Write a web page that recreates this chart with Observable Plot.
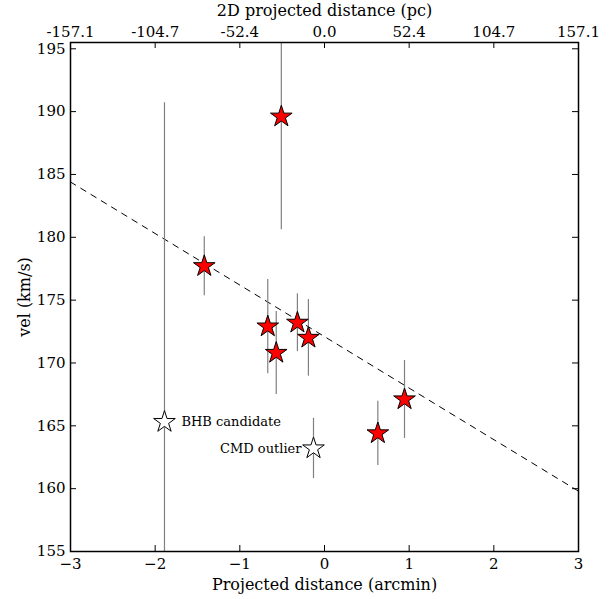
<!DOCTYPE html>
<html>
<head>
<meta charset="utf-8">
<script src="https://cdn.jsdelivr.net/npm/d3@7"></script>
<script src="https://cdn.jsdelivr.net/npm/@observablehq/plot@0.6"></script>
<style>
  body { margin: 0; background: #fff; }
  svg text { font-family: "DejaVu Serif", serif; }
  g[aria-label="x-axis label"], g[aria-label="y-axis label"] { font-size: 16px; }
</style>
</head>
<body>
<div id="chart"></div>
<script>
// Member stars (red filled)
const memberX   = [-0.51, -1.42, -0.67, -0.57, -0.32, -0.19, 0.63, 0.945];
const memberVel = [189.6, 177.7, 172.9, 170.8, 173.2, 172.0, 164.4, 167.1];
const memberErr = [9.0, 2.35, 3.75, 3.3, 2.3, 3.05, 2.55, 3.1];

// Non-member / special stars (open)
const otherX     = [-1.89, -0.13];
const otherVel   = [165.3, 163.2];
const otherErr   = [25.4, 2.4];
const otherLabel = ["BHB candidate", "CMD outlier"];

// Dashed gradient fit (endpoints)
const fitX = [-3, 3];
const fitY = [184.4, 159.8];

// Axis ticks
const xTicks = [-3, -2, -1, 0, 1, 2, 3];
const xLabels = ["−3", "−2", "−1", "0", "1", "2", "3"];
const pcLabels = ["-157.1", "-104.7", "-52.4", "0.0", "52.4", "104.7", "157.1"];
const yTicks = [155, 160, 165, 170, 175, 180, 185, 190, 195];

const members = memberX.map((x, i) => ({x, vel: memberVel[i], err: memberErr[i]}));
const others = otherX.map((x, i) => ({x, vel: otherVel[i], err: otherErr[i], label: otherLabel[i]}));
const fit = fitX.map((x, i) => ({x, y: fitY[i]}));
const all = others.concat(members);

const W = 615, H = 599;
const mL = 70, mR = 37, mT = 42, mB = 48;
const pw = W - mL - mR, ph = H - mT - mB;
const tk = 6;

const chart = Plot.plot({
  width: W,
  height: H,
  marginLeft: mL,
  marginRight: mR,
  marginTop: mT,
  marginBottom: mB,
  style: {fontFamily: "DejaVu Serif", fontSize: "15px", background: "#fff"},
  x: {domain: [-3, 3]},
  y: {domain: [155, 195.5]},
  marks: [
    Plot.line(fit, {x: "x", y: "y", stroke: "black", strokeWidth: 1, strokeDasharray: "6,6", clip: true}),
    Plot.ruleX(all, {x: "x", y1: d => d.vel - d.err, y2: d => d.vel + d.err, stroke: "#808080", strokeWidth: 1.2, clip: true}),
    Plot.dot(members, {x: "x", y: "vel", symbol: "star", r: 6.8, fill: "red", stroke: "black", strokeWidth: 1}),
    Plot.dot(others, {x: "x", y: "vel", symbol: "star", r: 6.8, fill: "white", stroke: "black", strokeWidth: 1}),
    Plot.text(others.slice(0, 1), {x: "x", y: "vel", text: "label", textAnchor: "start", dx: 17, fontSize: 13}),
    Plot.text(others.slice(1), {x: "x", y: "vel", text: "label", textAnchor: "end", dx: -12, fontSize: 13}),
    // inward ticks
    Plot.tickY(yTicks, {y: d => d, insetRight: pw - tk, stroke: "black"}),
    Plot.tickY(yTicks, {y: d => d, insetLeft: pw - tk, stroke: "black"}),
    Plot.tickX(xTicks, {x: d => d, insetTop: ph - tk, stroke: "black"}),
    Plot.tickX(xTicks, {x: d => d, insetBottom: ph - tk, stroke: "black"}),
    Plot.axisX({anchor: "bottom", ticks: xTicks, tickSize: 0, tickPadding: 7, tickFormat: (d, i) => xLabels[i], label: "Projected distance (arcmin)", labelAnchor: "center", labelArrow: false, labelOffset: 38}),
    Plot.axisX({anchor: "top", ticks: xTicks, tickSize: 0, tickPadding: 6, tickFormat: (d, i) => pcLabels[i], label: "2D projected distance (pc)", labelAnchor: "center", labelArrow: false, labelOffset: 38}),
    Plot.axisY({anchor: "left", ticks: yTicks, tickSize: 0, tickPadding: 5, label: "vel (km/s)", labelAnchor: "center", labelArrow: false, labelOffset: 52}),
    Plot.frame({stroke: "black", strokeWidth: 1.5})
  ]
});
document.getElementById("chart").appendChild(chart);
</script>
</body>
</html>
